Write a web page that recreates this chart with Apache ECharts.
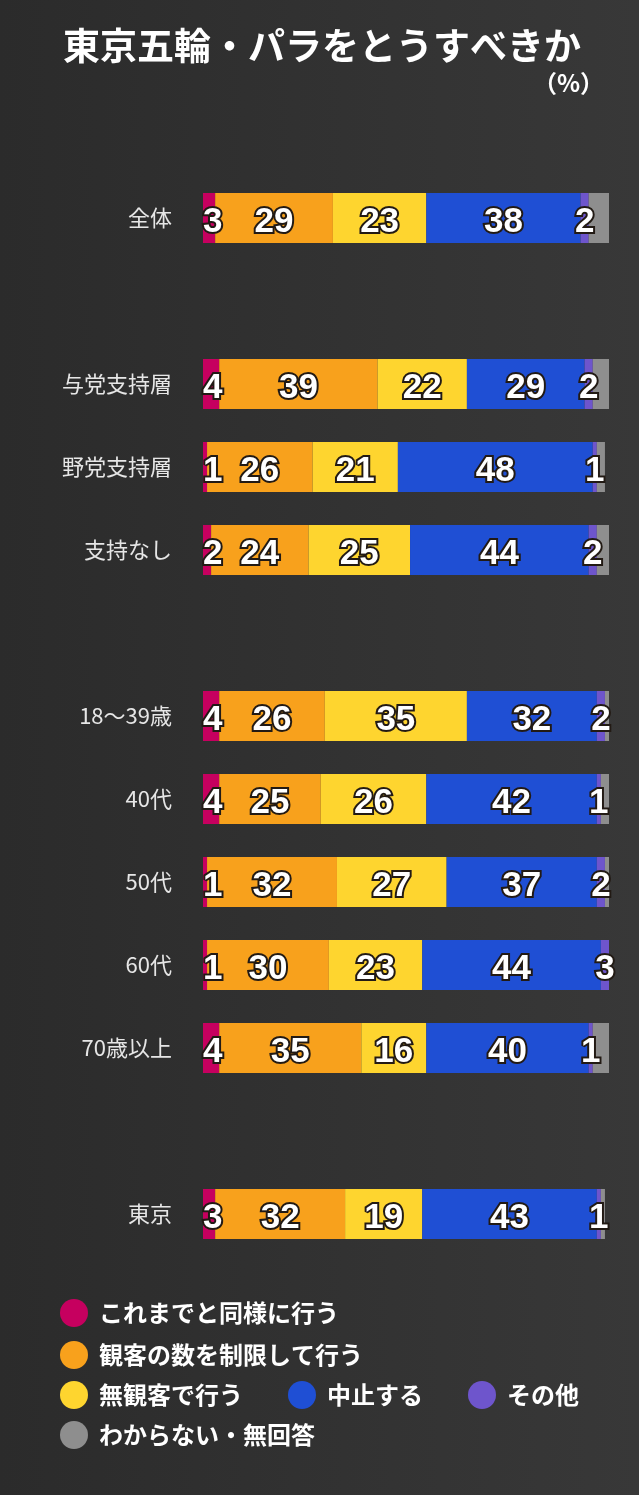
<!DOCTYPE html>
<html>
<head>
<meta charset="utf-8">
<script src="https://cdn.jsdelivr.net/npm/echarts@6/dist/echarts.min.js"></script>
<style>
  html, body { margin: 0; padding: 0; background: #2e2e2e; }
  #main { width: 639px; height: 1495px; }
</style>
</head>
<body>
<div id="main"></div>
<script>
// 行（空文字はグループ間のすき間）
var categories = ['全体', '', '与党支持層', '野党支持層', '支持なし', ' ',
    '18～39歳', '40代', '50代', '60代', '70歳以上', '  ', '東京'];

var seriesNames = ['これまでと同様に行う', '観客の数を制限して行う', '無観客で行う',
    '中止する', 'その他', 'わからない・無回答'];

var sameAsBefore = [3, null, 4, 1, 2, null, 4, 4, 1, 1, 4, null, 3];
var limitCrowd   = [29, null, 39, 26, 24, null, 26, 25, 32, 30, 35, null, 32];
var noCrowd      = [23, null, 22, 21, 25, null, 35, 26, 27, 23, 16, null, 19];
var cancel       = [38, null, 29, 48, 44, null, 32, 42, 37, 44, 40, null, 43];
var other        = [2, null, 2, 1, 2, null, 2, 1, 2, 3, 1, null, 1];
var unknown      = [5, null, 4, 2, 3, null, 1, 2, 2, 0, 4, null, 1];

var colors = ['#c6005f', '#f8a11c', '#fed52f', '#1f4fd4', '#6e55cc', '#8e8e8e'];

var cjk = '"Noto Sans CJK JP", sans-serif';
var num = '"Liberation Sans", Arial, sans-serif';

var values = [sameAsBefore, limitCrowd, noCrowd, cancel, other, unknown];

var series = values.map(function (arr, i) {
    return {
        name: seriesNames[i],
        type: 'bar',
        stack: 'all',
        barWidth: 50,
        data: arr,
        itemStyle: {color: colors[i]},
        label: {
            show: i < 5,
            position: i === 0 ? 'insideLeft' : 'inside',
            distance: 0,
            offset: [0, 4],
            color: '#fff',
            fontFamily: num,
            fontWeight: 'bold',
            fontSize: 35,
            textBorderColor: '#221a14',
            textBorderWidth: 4
        }
    };
});

var legendText = {color: '#fff', fontFamily: cjk, fontWeight: 'bold', fontSize: 24, padding: [0, 0, 0, 6]};
function legendRow(names, top) {
    return {
        data: names,
        left: 60,
        top: top,
        padding: 0,
        itemGap: 45,
        icon: 'circle',
        itemWidth: 28,
        itemHeight: 28,
        selectedMode: false,
        textStyle: legendText
    };
}

var chart = echarts.init(document.getElementById('main'));
var option = {
    backgroundColor: {
        type: 'linear', x: 0, y: 0, x2: 1, y2: 0,
        colorStops: [{offset: 0, color: '#2b2b2b'}, {offset: 1, color: '#383838'}]
    },
    color: colors,
    title: [
        {
            text: '東京五輪・パラをとうすべきか',
            left: 58,
            top: 22,
            textStyle: {color: '#fff', fontFamily: cjk, fontWeight: 'bold', fontSize: 37}
        },
        {
            text: '（%）',
            right: 30,
            top: 66,
            textStyle: {color: '#fff', fontFamily: cjk, fontWeight: 'bold', fontSize: 24}
        }
    ],
    legend: [
        legendRow([seriesNames[0]], 1299),
        legendRow([seriesNames[1]], 1341),
        legendRow([seriesNames[2], seriesNames[3], seriesNames[4]], 1381),
        legendRow([seriesNames[5]], 1421)
    ],
    grid: {left: 203, width: 406, top: 176.5, height: 1079},
    xAxis: {
        type: 'value',
        min: 0,
        max: 100,
        show: false
    },
    yAxis: {
        type: 'category',
        inverse: true,
        data: categories,
        axisLine: {show: false},
        axisTick: {show: false},
        axisLabel: {color: '#e6e6e6', fontFamily: cjk, fontSize: 22, margin: 31}
    },
    series: series
};
chart.setOption(option);
</script>
</body>
</html>
